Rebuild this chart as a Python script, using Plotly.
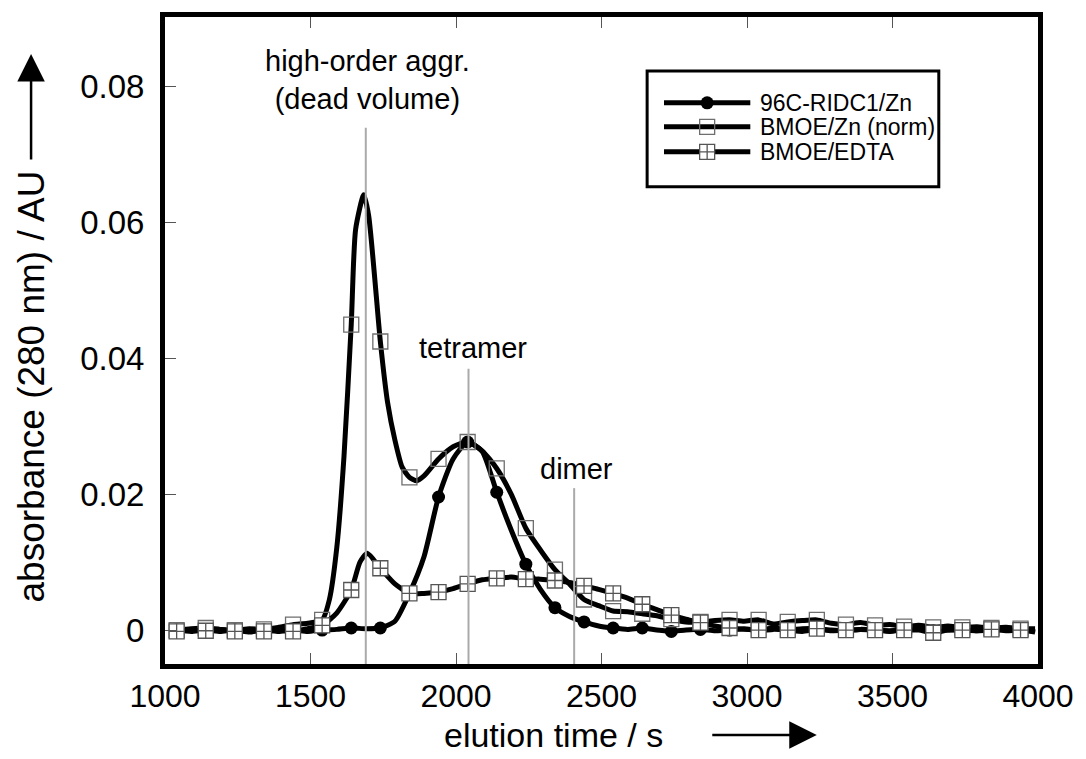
import plotly.graph_objects as go

# ---------------- data ----------------
time_ridc = [1040, 1090, 1140, 1190, 1240, 1290, 1340, 1390, 1440, 1490, 1540, 1590, 1640, 1690,
             1740, 1790, 1840, 1890, 1940, 1990, 2040, 2090, 2140, 2190, 2240, 2290, 2340, 2390,
             2440, 2490, 2540, 2590, 2640, 2690, 2740, 2790, 2840, 2890, 2940, 2990, 3040, 3090,
             3140, 3190, 3240, 3290, 3340, 3390, 3440, 3490, 3540, 3590, 3640, 3690, 3740, 3790,
             3840, 3890, 3940, 3990]
abs_ridc = [0.0000, -0.0002, 0.0000, -0.0002, 0.0000, -0.0003, 0.0000, -0.0002, 0.0000, -0.0002,
            0.0000, 0.0001, 0.0003, 0.0002, 0.0003, 0.0013, 0.0054, 0.0108, 0.0196, 0.0252,
            0.0277, 0.0263, 0.0203, 0.0147, 0.0097, 0.0060, 0.0033, 0.0020, 0.0012, 0.0006,
            0.0003, 0.0001, 0.0003, 0.0000, -0.0002, 0.0000, 0.0001, -0.0001, 0.0000, 0.0002,
            -0.0001, 0.0001, 0.0000, -0.0002, 0.0001, 0.0000, -0.0001, 0.0001, 0.0000, -0.0002,
            0.0000, 0.0001, -0.0001, 0.0000, 0.0001, -0.0001, 0.0000, 0.0001, -0.0001, 0.0000]

time_zn = [1040, 1090, 1140, 1190, 1240, 1290, 1340, 1390, 1440, 1490, 1540, 1565, 1590, 1615,
           1640, 1655, 1683, 1700, 1740, 1765, 1790, 1815, 1840, 1865, 1890, 1940, 1990, 2040,
           2090, 2140, 2190, 2240, 2290, 2340, 2390, 2440, 2490, 2540, 2590, 2640, 2690, 2740,
           2790, 2840, 2890, 2940, 2990, 3040, 3090, 3140, 3190, 3240, 3290, 3340, 3390, 3440,
           3490, 3540, 3590, 3640, 3690, 3740, 3790, 3840, 3890, 3940, 3990]
abs_zn = [0.0000, 0.0002, 0.0003, 0.0001, 0.0000, 0.0002, 0.0001, 0.0004, 0.0008, 0.0010,
          0.0015, 0.0045, 0.0120, 0.0255, 0.0450, 0.0590, 0.0641, 0.0610, 0.0425, 0.0335,
          0.0280, 0.0240, 0.0225, 0.0220, 0.0227, 0.0252, 0.0270, 0.0277, 0.0264, 0.0238,
          0.0200, 0.0150, 0.0118, 0.0089, 0.0068, 0.0045, 0.0036, 0.0028, 0.0027, 0.0024,
          0.0021, 0.0016, 0.0012, 0.0012, 0.0014, 0.0015, 0.0013, 0.0015, 0.0009, 0.0012,
          0.0014, 0.0015, 0.0010, 0.0008, 0.0011, 0.0007, 0.0008, 0.0005, 0.0007, 0.0004,
          0.0006, 0.0004, 0.0005, 0.0003, 0.0004, 0.0002, 0.0002]

time_edta = [1040, 1090, 1140, 1190, 1240, 1290, 1340, 1390, 1440, 1490, 1540, 1590, 1640, 1670,
             1695, 1740, 1790, 1840, 1890, 1940, 1990, 2040, 2090, 2140, 2190, 2240, 2290, 2340,
             2390, 2440, 2490, 2540, 2590, 2640, 2690, 2740, 2790, 2840, 2890, 2940, 2990, 3040,
             3090, 3140, 3190, 3240, 3290, 3340, 3390, 3440, 3490, 3540, 3590, 3640, 3690, 3740,
             3790, 3840, 3890, 3940, 3990]
abs_edta = [-0.0002, 0.0000, -0.0001, 0.0001, -0.0002, 0.0000, -0.0002, 0.0000, -0.0002, 0.0002,
            0.0007, 0.0025, 0.0059, 0.0100, 0.0113, 0.0091, 0.0068, 0.0054, 0.0054, 0.0056,
            0.0061, 0.0068, 0.0074, 0.0076, 0.0078, 0.0075, 0.0075, 0.0073, 0.0070, 0.0065,
            0.0060, 0.0054, 0.0047, 0.0038, 0.0030, 0.0022, 0.0016, 0.0011, 0.0006, 0.0003,
            0.0001, 0.0000, 0.0003, 0.0000, 0.0002, 0.0002, -0.0001, 0.0000, 0.0001, 0.0000,
            -0.0001, 0.0000, 0.0000, -0.0004, 0.0000, 0.0000, -0.0001, 0.0001, -0.0001, 0.0000,
            -0.0003]

series_names = ["96C-RIDC1/Zn", "BMOE/Zn (norm)", "BMOE/EDTA"]

marker_start = 1040
marker_step = 100

label_text = ["high-order aggr.<br>(dead volume)", "tetramer", "dimer"]
label_time = [1696, 2057, 2413]
label_abs = [0.0810, 0.0416, 0.0237]
guide_time = [1690, 2043, 2406]
guide_top = [0.0740, 0.0385, 0.0209]

x_ticks = [1000, 1500, 2000, 2500, 3000, 3500, 4000]
y_ticks = [0, 0.02, 0.04, 0.06, 0.08]
y_tick_text = ["0", "0.02", "0.04", "0.06", "0.08"]

# ---------------- styling ----------------
FONT = "Liberation Sans, Arial, Helvetica, sans-serif"
W, H = 1086, 759
L, R, T, B = 165, 41, 16, 95
styles = [
    dict(symbol="circle", size=13, color="black", line=dict(width=0)),
    dict(symbol="square-open", size=15, color="#6e6e6e", line=dict(width=1.3, color="#6e6e6e")),
    dict(symbol="square-cross", size=15, color="white", line=dict(width=1.3, color="#555555")),
]


def marker_subset(ts, vs):
    xs, ys = [], []
    for t, v in zip(ts, vs):
        if (t - marker_start) % marker_step == 0:
            xs.append(t)
            ys.append(v)
    return xs, ys


fig = go.Figure()
for name, ts, vs, st in zip(series_names, [time_ridc, time_zn, time_edta],
                            [abs_ridc, abs_zn, abs_edta], styles):
    fig.add_trace(go.Scatter(x=ts, y=vs, mode="lines", name=name, showlegend=False,
                             line=dict(color="black", width=5, shape="spline", smoothing=0.6),
                             hoverinfo="skip"))
    mx, my = marker_subset(ts, vs)
    fig.add_trace(go.Scatter(x=mx, y=my, mode="markers", name=name, showlegend=False,
                             marker=st))

# ---------------- custom legend (overlay axes in pixel units) ----------------
leg_rows = [102, 126, 151]
leg_line = (668, 755)
leg_text_x = 763
for name, row, st in zip(series_names, leg_rows, styles):
    fig.add_trace(go.Scatter(x=list(leg_line), y=[row, row], xaxis="x2", yaxis="y2",
                             mode="lines", line=dict(color="black", width=5),
                             showlegend=False, hoverinfo="skip"))
    fig.add_trace(go.Scatter(x=[(leg_line[0] + leg_line[1]) / 2], y=[row], xaxis="x2", yaxis="y2",
                             mode="markers", marker=st, showlegend=False, hoverinfo="skip"))
    fig.add_annotation(x=leg_text_x, y=row, xref="x2", yref="y2", text=name, showarrow=False,
                       xanchor="left", yanchor="middle", font=dict(family=FONT, size=23, color="black"))

fig.add_shape(type="rect", xref="x2", yref="y2", x0=651, x1=945, y0=70, y1=186,
              line=dict(color="black", width=3), fillcolor="white", layer="below")

# ---------------- guide lines and labels ----------------
for gt, top in zip(guide_time, guide_top):
    fig.add_shape(type="line", xref="x", yref="y", x0=gt, x1=gt, y0=-0.005, y1=top,
                  line=dict(color="#aaaaaa", width=2), layer="above")
for txt, lt, la in zip(label_text, label_time, label_abs):
    fig.add_annotation(x=lt, y=la, xref="x", yref="y", text=txt, showarrow=False,
                       xanchor="center", yanchor="middle",
                       font=dict(family=FONT, size=29, color="black"))


def px_to_paper(px, py):
    return (px - L) / (W - L - R), (H - B - py) / (H - T - B)


# axis titles with arrows
xt = px_to_paper(557, 735)
fig.add_annotation(x=xt[0], y=xt[1], xref="paper", yref="paper", text="elution time / s",
                   showarrow=False, xanchor="center", yanchor="middle",
                   font=dict(family=FONT, size=34, color="black"))
xa = px_to_paper(822, 735)
fig.add_annotation(x=xa[0], y=xa[1], xref="paper", yref="paper", text="", showarrow=True,
                   ax=-106, ay=0, arrowhead=2, arrowsize=2.2, arrowwidth=2.5, arrowcolor="black")
yt = px_to_paper(30, 386)
fig.add_annotation(x=yt[0], y=yt[1], xref="paper", yref="paper", text="absorbance (280 nm) / AU",
                   showarrow=False, textangle=-90, xanchor="center", yanchor="middle",
                   font=dict(family=FONT, size=37, color="black"))
ya = px_to_paper(30, 53)
fig.add_annotation(x=ya[0], y=ya[1], xref="paper", yref="paper", text="", showarrow=True,
                   ax=0, ay=107, arrowhead=2, arrowsize=2.2, arrowwidth=2.5, arrowcolor="black")

axis_common = dict(showgrid=False, zeroline=False, showline=True, linecolor="black", linewidth=5,
                   ticks="inside", ticklen=11, tickwidth=1, tickcolor="#555555")
fig.update_layout(
    width=W, height=H, margin=dict(l=L, r=R, t=T, b=B, pad=0),
    paper_bgcolor="white", plot_bgcolor="white", showlegend=False,
    xaxis=dict(range=[1000, 4000], tickvals=x_ticks, mirror="ticks", ticklabelstandoff=0,
               tickfont=dict(family=FONT, size=32, color="black"), **axis_common),
    yaxis=dict(range=[-0.005, 0.0903], tickvals=y_ticks, ticktext=y_tick_text, mirror=True,
               ticklabelstandoff=9, tickfont=dict(family=FONT, size=33, color="black"),
               **axis_common),
    xaxis2=dict(overlaying="x", range=[L, W - R], visible=False, anchor="y2"),
    yaxis2=dict(overlaying="y", range=[H - B, T], visible=False, anchor="x2"),
)

fig.write_html("out.html")
